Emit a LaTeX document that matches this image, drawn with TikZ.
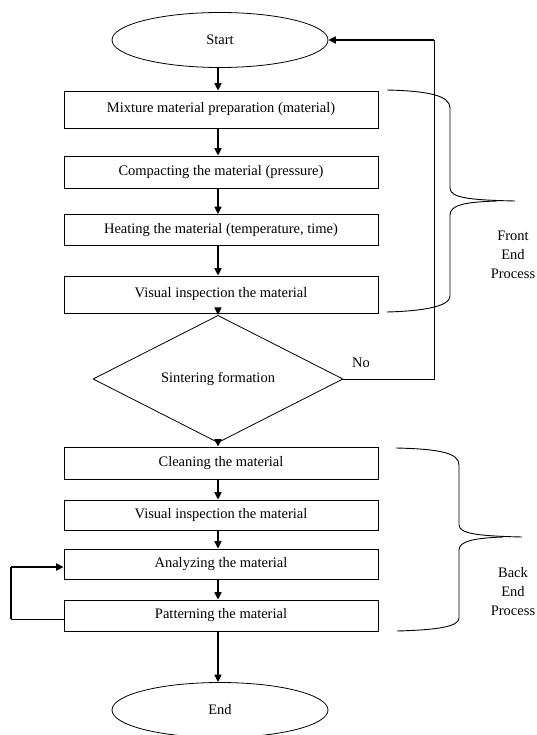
\documentclass[tikz,border=0pt]{standalone}
\usepackage{fontspec}
\setmainfont{Liberation Serif}
\usetikzlibrary{shapes.geometric,arrows.meta}
\begin{document}
\begin{tikzpicture}[x=1pt,y=-1pt,
  every node/.style={font=\fontsize{14.5}{19}\selectfont},
  stepbox/.style={draw,line width=0.8pt,rectangle,minimum width=314pt,inner sep=0pt},
  term/.style={draw,line width=0.8pt,ellipse,minimum width=216pt,minimum height=55pt,inner sep=0pt},
  decide/.style={draw,line width=0.8pt,diamond,minimum width=250pt,minimum height=92pt,inner sep=0pt},
  flow/.style={line width=1.6pt,-{Triangle[length=7.5pt,width=7pt]}},
  thinline/.style={line width=0.8pt},
  thickline/.style={line width=1.6pt},
  bracestyle/.style={line width=0.9pt},
  lbl/.style={align=center,inner sep=0pt}]
\useasboundingbox (0,0) rectangle (536,735);

\node[term] (start) at (220,40) {Start};
\node[stepbox,minimum height=37pt] (b1) at (221,109.5) {Mixture material preparation (material)};
\node[stepbox,minimum height=32pt] (b2) at (221,172) {Compacting the material (pressure)};
\node[stepbox,minimum height=31pt] (b3) at (221,230) {Heating the material (temperature, time)};
\node[stepbox,minimum height=37pt] (b4) at (221,294.5) {Visual inspection the material};
\node[decide] (dec) at (218,379) {Sintering formation};
\node[stepbox,minimum height=32pt] (b5) at (221,463) {Cleaning the material};
\node[stepbox,minimum height=30pt] (b6) at (221,515) {Visual inspection the material};
\node[stepbox,minimum height=30pt] (b7) at (221,564) {Analyzing the material};
\node[stepbox,minimum height=31pt] (b8) at (221,615.5) {Patterning the material};
\node[term] (end) at (220,710) {End};

\draw[flow] (start.south -| 218,0) -- (b1.north -| 218,0);
\draw[flow] (b1.south -| 218,0) -- (b2.north -| 218,0);
\draw[flow] (b2.south -| 218,0) -- (b3.north -| 218,0);
\draw[flow] (b3.south -| 218,0) -- (b4.north -| 218,0);
\draw[flow] (b4.south -| 218,0) -- (dec.north);
\draw[flow] (dec.south) -- (b5.north -| 218,0);
\draw[flow] (b5.south -| 218,0) -- (b6.north -| 218,0);
\draw[flow] (b6.south -| 218,0) -- (b7.north -| 218,0);
\draw[flow] (b7.south -| 218,0) -- (b8.north -| 218,0);
\draw[flow] (b8.south -| 218,0) -- (end.north -| 218,0);

% No loop
\coordinate (nr) at (434,379);
\coordinate (nt) at (434,40);
\draw[thinline] (dec.east) -- (nr) -- (nt);
\draw[flow] (nt) -- (start.east);
\node[inner sep=0pt] (no) at (361,363) {No};

% left loop
\coordinate (lb) at (11,619);
\coordinate (lt) at (11,567);
\draw[thinline] (b8.west |- lb) -- (lb);
\draw[thickline] (lb) -- (lt);
\draw[flow] (lt) -- (b7.west |- lt);

% front brace
\draw[bracestyle] (387,90) .. controls (430,91) and (450,96) .. (450,108) -- (450,188)
  .. controls (450,198) and (470,200) .. (515,201);
\draw[bracestyle] (497,201) .. controls (465,202) and (450,205) .. (450,215) -- (450,296)
  .. controls (450,306) and (425,311) .. (387,312);
\node[lbl] (front) at (513,255) {Front\\End\\Process};

% back brace
\draw[bracestyle] (396,448) .. controls (440,449) and (459,453) .. (459,465) -- (459,525)
  .. controls (459,534) and (480,536) .. (522,537);
\draw[bracestyle] (503,537) .. controls (475,538) and (459,541) .. (459,550) -- (459,618)
  .. controls (459,627) and (435,630) .. (397,631);
\node[lbl] (back) at (513,592) {Back\\End\\Process};
\end{tikzpicture}
\end{document}
